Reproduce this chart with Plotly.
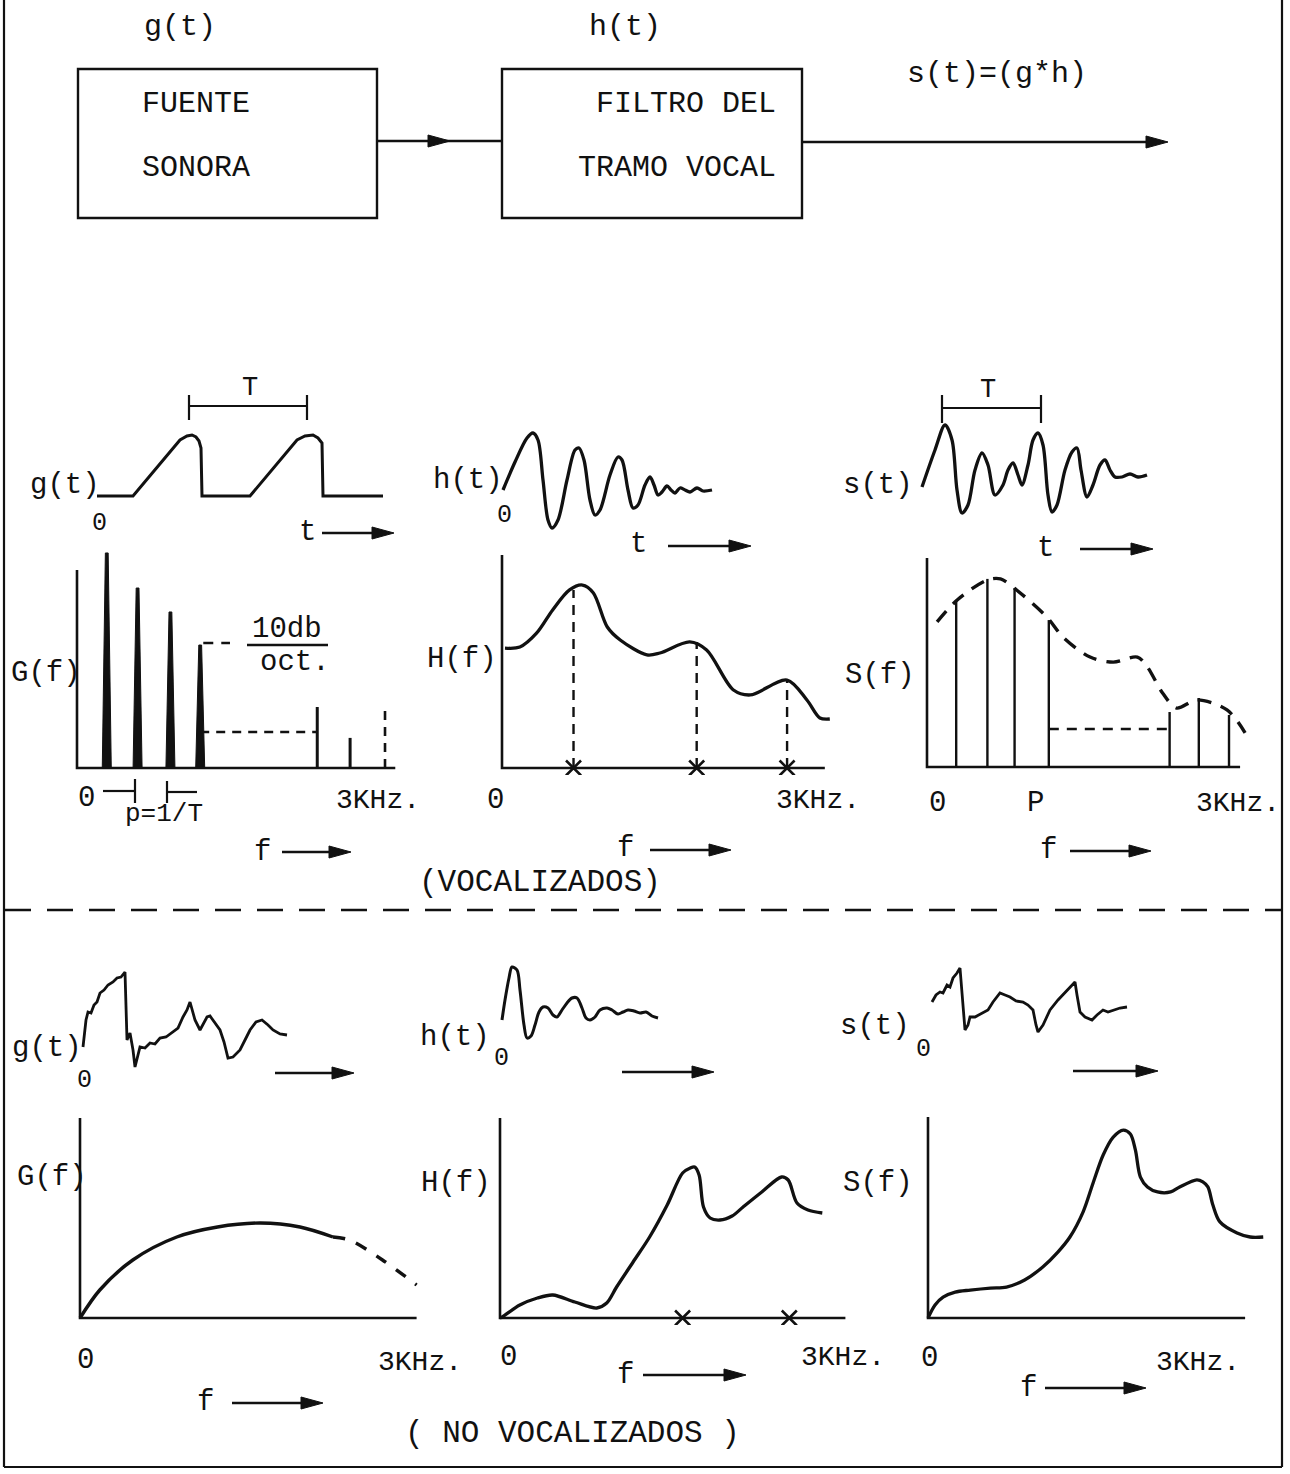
import plotly.graph_objects as go

W, H = 1290, 1474
FONT = "Liberation Mono"
INK = "#111111"

# ======================= DATA (local units) =======================
# --- VOCALIZADOS ---
# g(t): glottal pulse train (time units, relative amplitude)
vg_t = [0, 3.6, 8.3, 9.0, 9.5, 9.9, 10.2, 10.4, 10.5, 15.3, 20.0, 20.8, 21.6, 22.1, 22.5, 22.6, 28.6]
vg_a = [0, 0, 5.6, 6.0, 6.1, 5.9, 5.5, 4.8, 0, 0, 5.6, 6.0, 6.1, 5.8, 5.3, 0, 0]
vg_T = [9.2, 21.0]          # period bracket ends
vg_T_level = 9.0
vg_T_tick = [7.6, 10.1]

# G(f): harmonic lines (kHz, relative level 0-100)
vG_f = [0.29, 0.59, 0.91, 1.20]
vG_a = [108.6, 90.9, 78.8, 62.1]
vG_f_thin = [2.34, 2.66]
vG_a_thin = [30.8, 15.2]
vG_f_dashed = 3.00
vG_a_dashed = 30.8
vG_gap_level = 18.2
vG_gap_f = [1.20, 2.34]
vG_slope_level = 63.1
vG_slope_f = [1.23, 1.49]
vG_ext = (3.10, 100)

# h(t): vocal tract impulse response
vh_t = [0, 1.2, 2.4, 3.0, 3.5, 4.0, 4.5, 4.9, 5.5, 6.4, 7.2, 7.6, 8.1, 8.7, 9.2, 9.7, 10.7, 11.5,
        11.9, 12.5, 13.0, 13.5, 14.2, 14.7, 15.1, 15.5, 15.9, 16.4, 16.8, 17.2, 17.7, 18.2, 18.7,
        19.4, 20.0, 20.9]
vh_a = [0, 2.8, 5.2, 5.7, 5.0, 1.0, -3.0, -3.8, -3.0, 1.0, 4.0, 4.2, 3.0, -1.0, -2.5, -2.0, 1.5, 3.3,
        3.0, 0, -1.8, -1.5, 0.5, 1.3, 0.5, -0.5, -0.2, 0.4, 0, -0.3, 0.2, 0, -0.2, 0.2, -0.1, 0]

# H(f): vocal tract transfer function
vH_f = [0.03, 0.18, 0.35, 0.51, 0.68, 0.81, 0.92, 1.06, 1.19, 1.46, 1.59, 1.89, 2.06, 2.33, 2.50,
        2.87, 3.07, 3.20, 3.30]
vH_a = [56.3, 56.8, 63.4, 74.2, 83.6, 85.9, 82.2, 66.2, 60.1, 53.1, 54.0, 59.2, 55.4, 36.6, 34.3,
        41.3, 31.9, 23.5, 23.0]
vH_formant_f = [0.72, 1.96, 2.87]
vH_formant_a = [83.6, 59.2, 41.3]
vH_ext = (3.25, 100)

# s(t): voiced speech
vs_t = [0, 1.3, 2.3, 3.0, 3.5, 4.0, 4.6, 5.3, 6.0, 6.6, 7.3, 8.1, 8.6, 9.1, 9.6, 10.0, 10.6, 11.1,
        11.6, 12.1, 12.6, 13.0, 13.5, 14.3, 15.0, 15.5, 15.9, 16.5, 17.1, 17.8, 18.3, 18.8, 19.3,
        20.0, 20.8, 21.6, 22.5]
vs_a = [-0.7, 3.0, 5.5, 4.0, -1.0, -3.3, -2.5, 1.0, 2.7, 1.5, -1.5, -0.5, 1.0, 1.7, 0.5, -0.5, 1.5,
        4.0, 4.7, 3.5, -1.5, -3.2, -2.5, 1.0, 2.8, 3.2, 1.0, -1.7, -0.5, 1.5, 2.0, 1.0, 0.3, 0.3,
        0.6, 0.3, 0.5]
vs_T = [2.0, 11.9]
vs_T_level = 7.2
vs_T_tick = [5.7, 8.5]

# S(f): voiced spectrum
vS_f = [0.29, 0.60, 0.87, 1.21, 2.41, 2.70, 3.00]
vS_a = [79.9, 90.0, 85.6, 70.3, 26.3, 33.0, 24.9]
vS_env_f = [0.10, 0.30, 0.60, 0.73, 0.89, 1.19, 1.35, 1.62, 1.85, 2.09, 2.19, 2.34, 2.48, 2.68,
            2.98, 3.16]
vS_env_a = [69.4, 79.9, 89.5, 90.0, 84.7, 71.8, 62.2, 52.6, 50.2, 52.6, 47.8, 35.4, 28.2, 32.1,
            27.3, 16.3]
vS_gap_level = 18.2
vS_gap_f = [1.21, 2.41]
vS_ext = (3.11, 100)

# --- NO VOCALIZADOS ---
ug_t = [0, 0.3, 0.5, 0.8, 1.1, 1.4, 1.7, 2.1, 2.5, 3.0, 3.4, 3.8, 4.2, 4.3, 4.4, 4.7, 5.0, 5.2, 5.5,
        5.7, 6.2, 6.7, 7.2, 7.7, 8.3, 9.0, 9.5, 10.0, 10.4, 10.7, 11.0, 11.2, 11.7, 12.1, 12.4, 12.7,
        13.0, 13.4, 13.7, 14.1, 14.5, 15.0, 15.7, 16.2, 16.7, 17.3, 17.9, 18.5, 19.0, 19.7, 20.4]
ug_a = [0, 2.7, 3.5, 3.4, 4.2, 4.5, 5.4, 5.7, 6.2, 6.5, 6.9, 7.0, 7.5, 4.7, 0.7, 1.4, -0.3, -2.0,
        -0.8, 0, -0.1, 0.4, 0.3, 0.9, 1.0, 1.5, 1.9, 3.0, 3.7, 4.5, 3.5, 2.7, 1.7, 2.5, 3.0, 3.1, 2.7,
        2.2, 1.7, 0.5, -1.1, -1.0, -0.3, 0.7, 1.7, 2.5, 2.7, 2.2, 1.7, 1.3, 1.2]

uG_f = [0, 0.18, 0.48, 0.88, 1.25, 1.64, 2.00, 2.30]
uG_a = [0, 14, 29, 40.5, 45.5, 47.5, 45.5, 40.5]
uG_f_dashed = [2.30, 2.45, 2.75, 3.06]
uG_a_dashed = [40.5, 39, 29, 16.5]
uG_ext = (3.06, 100)

uh_t = [0, 0.3, 0.7, 1.0, 1.5, 1.8, 2.2, 2.5, 2.9, 3.3, 3.7, 4.1, 4.6, 5.1, 5.5, 6.0, 6.5, 7.0, 7.5,
        8.0, 8.4, 8.8, 9.3, 9.8, 10.5, 11.0, 11.6, 12.1, 12.6, 13.2, 13.8, 14.4, 15.0, 15.6]
uh_a = [-0.5, 1.5, 3.7, 4.8, 4.5, 2.5, -1.0, -2.3, -2.1, -1.0, 0.3, 0.8, 0.7, 0, -0.2, 0.5, 1.2, 1.7,
        1.7, 0.7, -0.3, -0.5, -0.2, 0.5, 0.7, 0.5, 0.1, 0.3, 0.5, 0.4, 0.2, 0.3, -0.1, -0.3]

uH_f = [0, 0.02, 0.18, 0.34, 0.48, 0.68, 0.88, 0.97, 1.06, 1.21, 1.36, 1.52, 1.66, 1.73, 1.77, 1.81,
        1.85, 1.91, 2.00, 2.11, 2.21, 2.38, 2.56, 2.62, 2.70, 2.80, 2.93]
uH_a = [0, 0.5, 6.5, 10, 11.5, 8, 5, 7.5, 15.5, 28, 40.5, 56.5, 72.5, 75, 75.5, 71.5, 55.5, 50, 49,
        51, 55.5, 63, 70.5, 69, 57.5, 54, 52.5]
uH_formant_f = [1.66, 2.63]
uH_ext = (3.14, 100)

us_t = [0, 0.4, 0.8, 1.1, 1.5, 1.8, 2.1, 2.5, 2.8, 3.0, 3.3, 3.6, 3.8, 4.3, 4.8, 5.1, 5.6, 6.1, 6.8,
        7.3, 7.8, 8.4, 9.1, 9.6, 10.1, 10.4, 10.6, 11.1, 11.8, 12.6, 13.5, 14.0, 14.3, 14.5, 14.8,
        15.3, 16.0, 16.5, 17.1, 17.6, 18.1, 18.8, 19.5]
us_a = [0.8, 1.5, 1.8, 1.7, 2.5, 2.3, 3.2, 3.7, 4.2, 2.0, -2.0, -1.5, -0.7, -0.7, -0.4, -0.3, 0, 0.8,
        1.7, 1.5, 1.3, 0.9, 0.8, 0.5, 0, -1.5, -2.2, -1.5, 0, 1.0, 2.0, 2.5, 2.8, 1.5, -0.2, -0.7,
        -1.0, -0.5, 0, -0.2, 0, 0.2, 0.3]

uS_f = [0, 0.07, 0.15, 0.27, 0.42, 0.62, 0.78, 0.96, 1.14, 1.29, 1.41, 1.54, 1.64, 1.74, 1.84, 1.94,
        2.01, 2.06, 2.11, 2.18, 2.28, 2.41, 2.50, 2.67, 2.73, 2.78, 2.83, 2.90, 3.07, 3.20, 3.33]
uS_a = [0, 6.5, 10.4, 12.9, 13.9, 14.9, 15.4, 18.9, 25.4, 32.8, 40.3, 52.7, 67.2, 81.1, 90.0, 93.5,
        91.5, 83.6, 70.1, 65.2, 62.7, 62.7, 65.2, 68.7, 67.7, 65.2, 56.2, 47.8, 42.3, 40.3, 40.3]
uS_ext = (3.15, 100)

# ======================= LAYOUT GEOMETRY (pixels) =======================
# box = (left, top, right, bottom); origin = pixel of local (0,0); scale = px per unit
PANELS = {
    "vg": dict(box=(80, 380, 400, 540), origin=(97, 496), scale=(10, 10)),
    "vG": dict(box=(60, 540, 410, 775), origin=(77, 768), scale=(102.67, 1.98)),
    "vh": dict(box=(495, 400, 760, 540), origin=(503, 490), scale=(10, 10)),
    "vH": dict(box=(495, 540, 840, 775), origin=(502, 768), scale=(99.33, 2.13)),
    "vs": dict(box=(915, 380, 1160, 540), origin=(922, 480), scale=(10, 10)),
    "vS": dict(box=(920, 540, 1255, 775), origin=(927, 767), scale=(100.67, 2.09)),
    "ug": dict(box=(78, 950, 300, 1080), origin=(83, 1047), scale=(10, 10)),
    "uG": dict(box=(75, 1100, 430, 1325), origin=(80, 1318), scale=(110, 2.0)),
    "uh": dict(box=(495, 950, 670, 1060), origin=(502, 1015), scale=(10, 10)),
    "uH": dict(box=(495, 1100, 850, 1325), origin=(500, 1318), scale=(110, 2.0)),
    "us": dict(box=(925, 950, 1140, 1060), origin=(932, 1010), scale=(10, 10)),
    "uS": dict(box=(920, 1100, 1270, 1325), origin=(928, 1318), scale=(100.67, 2.01)),
}

fig = go.Figure()
layout_axes = {}
AX = {}
for i, (name, p) in enumerate(PANELS.items(), start=1):
    xl, yt, xr, yb = p["box"]
    ox, oy = p["origin"]
    sx, sy = p["scale"]
    xk = "xaxis" if i == 1 else f"xaxis{i}"
    yk = "yaxis" if i == 1 else f"yaxis{i}"
    xid = "x" if i == 1 else f"x{i}"
    yid = "y" if i == 1 else f"y{i}"
    layout_axes[xk] = dict(domain=[xl / W, xr / W], range=[(xl - ox) / sx, (xr - ox) / sx],
                           visible=False, anchor=yid, fixedrange=True)
    layout_axes[yk] = dict(domain=[1 - yb / H, 1 - yt / H], range=[(oy - yb) / sy, (oy - yt) / sy],
                           visible=False, anchor=xid, fixedrange=True)
    AX[name] = (xid, yid)


def line(panel, x, y, width=3.0, dash=None, spline=False, smooth=0.8):
    xa, ya = AX[panel]
    ln = dict(color=INK, width=width)
    if dash:
        ln["dash"] = dash
    if spline:
        ln["shape"] = "spline"
        ln["smoothing"] = smooth
    fig.add_trace(go.Scatter(x=x, y=y, mode="lines", line=ln, xaxis=xa, yaxis=ya,
                             hoverinfo="skip", showlegend=False))


def axes_L(panel, ext):
    xe, ye = ext
    line(panel, [0, 0, xe], [ye, 0, 0], width=2.6)


def spikes(panel, f, a, half_base, half_top):
    xa, ya = AX[panel]
    sx = PANELS[panel]["scale"][0]
    for fi, ai in zip(f, a):
        b, t = half_base / sx, half_top / sx
        fig.add_trace(go.Scatter(x=[fi - b, fi - t, fi + t, fi + b, fi - b], y=[0, ai, ai, 0, 0],
                                 mode="lines", fill="toself", fillcolor=INK,
                                 line=dict(color=INK, width=1), xaxis=xa, yaxis=ya,
                                 hoverinfo="skip", showlegend=False))


def stems(panel, f, a, width=2.4, dash=None):
    for fi, ai in zip(f, a):
        line(panel, [fi, fi], [0, ai], width=width, dash=dash)


def bracket(panel, ends, level, tick):
    line(panel, [ends[0], ends[0], ends[0], ends[1], ends[1], ends[1]],
         [tick[0], tick[1], level, level, tick[1], tick[0]], width=2.2)


def markers_x(panel, f):
    xa, ya = AX[panel]
    fig.add_trace(go.Scatter(x=f, y=[0] * len(f), mode="markers",
                             marker=dict(symbol="x-thin", size=15, line=dict(color=INK, width=2.6)),
                             xaxis=xa, yaxis=ya, hoverinfo="skip", showlegend=False))


# ---------------- voiced panels ----------------
line("vg", vg_t, vg_a, width=3.0)
bracket("vg", vg_T, vg_T_level, vg_T_tick)

axes_L("vG", vG_ext)
spikes("vG", vG_f, vG_a, 4.5, 1.4)
stems("vG", vG_f_thin, vG_a_thin, width=3.0)
stems("vG", [vG_f_dashed], [vG_a_dashed], width=2.6, dash="9px,7px")
line("vG", vG_gap_f, [vG_gap_level] * 2, width=2.6, dash="9px,7px")
line("vG", vG_slope_f, [vG_slope_level] * 2, width=2.6, dash="10px,8px")

line("vh", vh_t, vh_a, width=3.3, spline=True, smooth=0.9)

axes_L("vH", vH_ext)
line("vH", vH_f, vH_a, width=3.3, spline=True, smooth=0.9)
stems("vH", vH_formant_f, vH_formant_a, width=2.4, dash="10px,7px")
markers_x("vH", vH_formant_f)

line("vs", vs_t, vs_a, width=3.3, spline=True, smooth=0.9)
bracket("vs", vs_T, vs_T_level, vs_T_tick)

axes_L("vS", vS_ext)
stems("vS", vS_f, vS_a, width=2.4)
line("vS", vS_env_f, vS_env_a, width=3.4, dash="14px,10px", spline=True, smooth=0.9)
line("vS", vS_gap_f, [vS_gap_level] * 2, width=2.6, dash="10px,8px")

# ---------------- unvoiced panels ----------------
line("ug", ug_t, ug_a, width=2.8)

axes_L("uG", uG_ext)
line("uG", uG_f, uG_a, width=3.4, spline=True, smooth=0.9)
line("uG", uG_f_dashed, uG_a_dashed, width=3.4, dash="12px,12px", spline=True, smooth=0.9)

line("uh", uh_t, uh_a, width=3.0, spline=True, smooth=0.9)

axes_L("uH", uH_ext)
line("uH", uH_f, uH_a, width=3.3, spline=True, smooth=0.9)
markers_x("uH", uH_formant_f)

line("us", us_t, us_a, width=2.8)

axes_L("uS", uS_ext)
line("uS", uS_f, uS_a, width=3.3, spline=True, smooth=0.9)

# ======================= decorations in page pixels =======================
shapes = []
annots = []


def X(x):
    return x / W


def Y(y):
    return 1 - y / H


def pline(x0, y0, x1, y1, width=2.5, dash=None):
    ln = dict(color=INK, width=width)
    if dash:
        ln["dash"] = dash
    shapes.append(dict(type="line", xref="paper", yref="paper", x0=X(x0), y0=Y(y0),
                       x1=X(x1), y1=Y(y1), line=ln))


def head(xtip, y, length=22, half=6):
    shapes.append(dict(type="path", xref="paper", yref="paper",
                       path=f"M {X(xtip - length)} {Y(y - half)} L {X(xtip)} {Y(y)} "
                            f"L {X(xtip - length)} {Y(y + half)} Z",
                       fillcolor=INK, line=dict(color=INK, width=1)))


def parrow(x0, x1, y, width=2.6):
    pline(x0, y, x1 - 10, y, width=width)
    head(x1, y)


def text(s, x, y, size=29, anchor="center"):
    annots.append(dict(text=s, x=X(x), y=Y(y), xref="paper", yref="paper", showarrow=False,
                       xanchor=anchor, yanchor="middle",
                       font=dict(family=FONT, size=size, color=INK)))


# frame
pline(4, 0, 4, 1467, width=2.2)
pline(1282, 0, 1282, 1467, width=2.2)
pline(4, 1467, 1282, 1467, width=2.2)
# separator
pline(5, 910, 1281, 910, width=2.6, dash="26px,16px")

# block diagram
shapes.append(dict(type="rect", xref="paper", yref="paper", x0=X(78), y0=Y(218), x1=X(377),
                   y1=Y(69), line=dict(color=INK, width=2.4)))
shapes.append(dict(type="rect", xref="paper", yref="paper", x0=X(502), y0=Y(218), x1=X(802),
                   y1=Y(69), line=dict(color=INK, width=2.4)))
pline(377, 141, 502, 141, width=2.6)
head(450, 141)
parrow(802, 1168, 142)

text("g(t)", 180, 27, 30)
text("h(t)", 625, 27, 30)
text("FUENTE", 140, 104, 30, "left")
text("SONORA", 140, 168, 30, "left")
text("FILTRO DEL", 778, 104, 30, "right")
text("TRAMO VOCAL", 778, 168, 30, "right")
text("s(t)=(g*h)", 905, 74, 30, "left")

# voiced texts
text("T", 250, 388, 27)
text("g(t)", 102, 486, 29, "right")
text("0", 99, 524, 25)
text("t", 307, 532, 29)
parrow(322, 394, 533)
text("G(f)", 46, 673, 29)
text("10db", 287, 630, 29)
pline(247, 645, 328, 645, width=2.6)
text("oct.", 295, 662, 29)
text("0", 86, 798, 29)
pline(103, 791, 135, 791, width=2.2)
pline(135, 779, 135, 803, width=2.2)
pline(167, 781, 167, 803, width=2.2)
pline(167, 792, 197, 792, width=2.2)
text("p=1/T", 164, 814, 26)
text("3KHz.", 378, 800, 28)
text("f", 262, 852, 29)
parrow(282, 351, 852)

text("h(t)", 505, 480, 29, "right")
text("0", 505, 515, 25)
text("t", 638, 545, 29)
parrow(668, 751, 546)
text("H(f)", 462, 660, 29)
text("0", 495, 800, 29)
text("3KHz.", 818, 800, 28)
text("f", 625, 848, 29)
parrow(650, 731, 850)

text("T", 988, 390, 27)
text("s(t)", 915, 485, 29, "right")
text("t", 1045, 548, 29)
parrow(1080, 1153, 549)
text("S(f)", 880, 675, 29)
text("0", 937, 803, 29)
text("P", 1035, 803, 29)
text("3KHz.", 1238, 803, 28)
text("f", 1048, 850, 29)
parrow(1070, 1151, 851)
text("(VOCALIZADOS)", 540, 882, 31)

# unvoiced texts
text("g(t)", 84, 1048, 29, "right")
text("0", 84, 1080, 25)
parrow(275, 354, 1073)
text("G(f)", 52, 1177, 29)
text("0", 85, 1360, 29)
text("3KHz.", 420, 1362, 28)
text("f", 205, 1402, 29)
parrow(232, 323, 1403)

text("h(t)", 492, 1037, 29, "right")
text("0", 501, 1058, 25)
parrow(622, 714, 1072)
text("H(f)", 456, 1183, 29)
text("0", 508, 1357, 29)
text("3KHz.", 843, 1357, 28)
text("f", 625, 1375, 29)
parrow(643, 746, 1375)

text("s(t)", 912, 1026, 29, "right")
text("0", 923, 1049, 25)
parrow(1073, 1158, 1071)
text("S(f)", 878, 1183, 29)
text("0", 930, 1358, 29)
text("3KHz.", 1198, 1362, 28)
text("f", 1028, 1388, 29)
parrow(1045, 1146, 1388)
text("( NO VOCALIZADOS )", 572, 1433, 31)

fig.update_layout(
    width=W, height=H, margin=dict(l=0, r=0, t=0, b=0),
    paper_bgcolor="white", plot_bgcolor="rgba(0,0,0,0)",
    showlegend=False, shapes=shapes, annotations=annots,
    **layout_axes,
)
fig.write_html("out.html", config={"displayModeBar": False})
